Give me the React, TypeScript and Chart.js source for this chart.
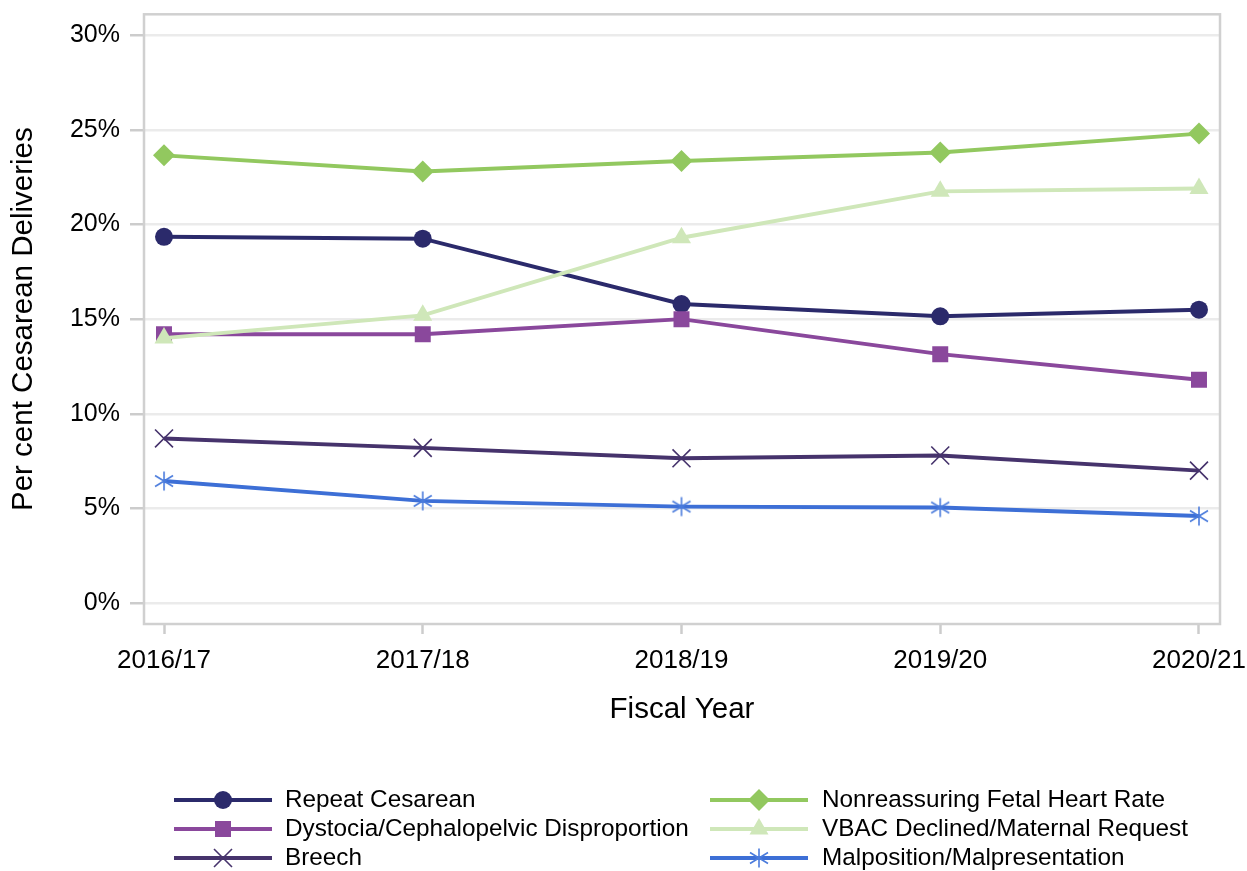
import React, { useEffect, useRef } from 'react';
import { Chart, registerables } from 'chart.js';

Chart.register(...registerables);

const FONT = '"Liberation Sans", Arial, Helvetica, sans-serif';

const categories = ['2016/17', '2017/18', '2018/19', '2019/20', '2020/21'];
const yTickValues = [0, 5, 10, 15, 20, 25, 30];

const repeatCesarean = [19.35, 19.25, 15.8, 15.15, 15.5];
const nonreassuringFHR = [23.65, 22.8, 23.35, 23.8, 24.8];
const dystociaCPD = [14.2, 14.2, 15.0, 13.15, 11.8];
const vbacDeclined = [14.0, 15.2, 19.3, 21.75, 21.9];
const breech = [8.7, 8.2, 7.65, 7.8, 7.0];
const malposition = [6.45, 5.4, 5.1, 5.05, 4.6];

const seriesLabels = [
  'Repeat Cesarean',
  'Nonreassuring Fetal Heart Rate',
  'Dystocia/Cephalopelvic Disproportion',
  'VBAC Declined/Maternal Request',
  'Breech',
  'Malposition/Malpresentation',
];
const seriesValues = [repeatCesarean, nonreassuringFHR, dystociaCPD, vbacDeclined, breech, malposition];
const seriesColors = ['#2b2a6b', '#92c85f', '#8a489c', '#cfe7b9', '#46336c', '#3d6fd6'];
const markerColors = ['#2b2a6b', '#92c85f', '#8a489c', '#cfe7b9', '#46336c', '#4a7bdc'];
const markerKinds = ['circle', 'diamond', 'square', 'triangle', 'x', 'asterisk'];

const LINE_W = 3.9;

function makeAsterisk(color: string): HTMLCanvasElement {
  const c = document.createElement('canvas');
  c.width = 22;
  c.height = 22;
  const g = c.getContext('2d')!;
  g.strokeStyle = color;
  g.lineWidth = 1.6;
  g.beginPath();
  g.moveTo(11, 1.5);
  g.lineTo(11, 20.5);
  g.moveTo(2, 5.5);
  g.lineTo(20, 16.5);
  g.moveTo(2, 16.5);
  g.lineTo(20, 5.5);
  g.stroke();
  return c;
}

function drawMarker(ctx: CanvasRenderingContext2D, kind: string, x: number, y: number, color: string, star?: HTMLCanvasElement) {
  ctx.save();
  ctx.fillStyle = color;
  ctx.strokeStyle = color;
  ctx.beginPath();
  if (kind === 'circle') {
    ctx.arc(x, y, 9, 0, Math.PI * 2);
    ctx.fill();
  } else if (kind === 'square') {
    ctx.rect(x - 8, y - 8, 16, 16);
    ctx.fill();
  } else if (kind === 'diamond') {
    ctx.moveTo(x - 11, y);
    ctx.lineTo(x, y - 11);
    ctx.lineTo(x + 11, y);
    ctx.lineTo(x, y + 11);
    ctx.closePath();
    ctx.fill();
  } else if (kind === 'triangle') {
    ctx.moveTo(x, y - 11);
    ctx.lineTo(x + 9.5, y + 5.5);
    ctx.lineTo(x - 9.5, y + 5.5);
    ctx.closePath();
    ctx.fill();
  } else if (kind === 'x') {
    ctx.lineWidth = 1.6;
    ctx.moveTo(x - 9, y - 9);
    ctx.lineTo(x + 9, y + 9);
    ctx.moveTo(x - 9, y + 9);
    ctx.lineTo(x + 9, y - 9);
    ctx.stroke();
  } else if (kind === 'asterisk' && star) {
    ctx.drawImage(star, x - star.width / 2, y - star.height / 2);
  }
  ctx.restore();
}

function zeroPadding(s: any) {
  s.paddingLeft = 0;
  s.paddingRight = 0;
  s.paddingTop = 0;
  s.paddingBottom = 0;
}

export default function App() {
  const canvasRef = useRef<HTMLCanvasElement | null>(null);

  useEffect(() => {
    const canvas = canvasRef.current;
    if (!canvas) return;
    const star = makeAsterisk(markerColors[5]);

    const pointStyleFor = (k: string): any => {
      switch (k) {
        case 'circle': return 'circle';
        case 'square': return 'rect';
        case 'diamond': return 'rectRot';
        case 'triangle': return 'triangle';
        case 'x': return 'crossRot';
        default: return star;
      }
    };
    const radiusFor = (k: string) => {
      switch (k) {
        case 'circle': return 9;
        case 'square': return 11.3;
        case 'diamond': return 11;
        case 'triangle': return 11;
        case 'x': return 12.7;
        default: return 11;
      }
    };

    const datasets = seriesLabels.map((label, i) => ({
      label,
      data: seriesValues[i].map((v, j) => ({ x: j, y: v })),
      borderColor: seriesColors[i],
      backgroundColor: markerColors[i],
      borderWidth: LINE_W,
      pointStyle: pointStyleFor(markerKinds[i]),
      pointRadius: radiusFor(markerKinds[i]),
      pointHoverRadius: radiusFor(markerKinds[i]),
      pointBorderWidth: markerKinds[i] === 'x' ? 1.6 : 0,
      pointBorderColor: markerColors[i],
      pointBackgroundColor: markerColors[i],
      tension: 0,
      fill: false,
      order: -i,
    }));

    const frame = {
      id: 'frame',
      beforeDatasetsDraw(chart: any) {
        const { ctx, chartArea: a } = chart;
        ctx.save();
        ctx.strokeStyle = '#d0d0d0';
        ctx.lineWidth = 2.5;
        ctx.strokeRect(a.left, a.top, a.right - a.left, a.bottom - a.top);
        ctx.restore();
      },
      afterDraw(chart: any) {
        const { ctx, chartArea: a } = chart;
        ctx.save();
        ctx.fillStyle = '#000';
        ctx.font = `29.5px ${FONT}`;
        ctx.textAlign = 'center';
        ctx.textBaseline = 'middle';
        ctx.fillText('Fiscal Year', (a.left + a.right) / 2, 710);
        ctx.translate(24, (a.top + a.bottom) / 2);
        ctx.rotate(-Math.PI / 2);
        ctx.fillText('Per cent Cesarean Deliveries', 0, 0);
        ctx.restore();

        // legend: two columns, column-major
        const cols = [
          { lineX0: 174, lineX1: 272, textX: 285 },
          { lineX0: 710, lineX1: 808, textX: 822 },
        ];
        const rowsY = [800, 829, 858];
        const legendOrder = [0, 2, 4, 1, 3, 5];
        legendOrder.forEach((si, k) => {
          const col = cols[Math.floor(k / 3)];
          const y = rowsY[k % 3];
          ctx.save();
          ctx.strokeStyle = seriesColors[si];
          ctx.lineWidth = LINE_W;
          ctx.beginPath();
          ctx.moveTo(col.lineX0, y);
          ctx.lineTo(col.lineX1, y);
          ctx.stroke();
          ctx.restore();
          drawMarker(ctx, markerKinds[si], (col.lineX0 + col.lineX1) / 2, y, markerColors[si], star);
          ctx.save();
          ctx.fillStyle = '#000';
          ctx.font = `24.3px ${FONT}`;
          ctx.textAlign = 'left';
          ctx.textBaseline = 'middle';
          ctx.fillText(seriesLabels[si], col.textX, y);
          ctx.restore();
        });
      },
    };

    const chart = new Chart(canvas, {
      type: 'line',
      data: { datasets: datasets as any },
      options: {
        animation: false,
        responsive: false,
        maintainAspectRatio: false,
        events: [],
        layout: { padding: { top: 12, right: 27, bottom: 127, left: 0 } },
        plugins: { legend: { display: false }, tooltip: { enabled: false } },
        scales: {
          x: {
            type: 'linear',
            min: -0.0773,
            max: 4.0812,
            afterBuildTicks: (s: any) => {
              s.ticks = categories.map((_, i) => ({ value: i }));
            },
            afterFit: (s: any) => {
              s.height = 120;
              zeroPadding(s);
            },
            grid: {
              drawOnChartArea: false,
              drawTicks: true,
              tickLength: 10,
              tickColor: '#cccccc',
              tickWidth: 2.5,
            },
            border: { display: false },
            ticks: {
              callback: (v: any) => categories[Math.round(Number(v))] ?? '',
              font: { family: FONT, size: 26 },
              color: '#000',
              padding: 11,
              maxRotation: 0,
              autoSkip: false,
            },
          },
          y: {
            type: 'linear',
            min: -1.1,
            max: 31.1,
            afterBuildTicks: (s: any) => {
              s.ticks = yTickValues.map((v) => ({ value: v }));
            },
            afterFit: (s: any) => {
              s.width = 144;
              zeroPadding(s);
            },
            grid: {
              color: '#ebebeb',
              lineWidth: 2.5,
              drawTicks: true,
              tickLength: 14,
              tickColor: '#cccccc',
              tickWidth: 2.5,
            },
            border: { display: false },
            ticks: {
              callback: (v: any) => `${v}%`,
              font: { family: FONT, size: 25 },
              color: '#000',
              padding: 10,
            },
          },
        },
      },
      plugins: [frame],
    });

    return () => chart.destroy();
  }, []);

  return (
    <div style={{ position: 'fixed', left: 0, top: 0, width: 1247, height: 871, background: '#fff' }}>
      <canvas ref={canvasRef} width={1247} height={871} style={{ display: 'block', width: 1247, height: 871 }} />
    </div>
  );
}
